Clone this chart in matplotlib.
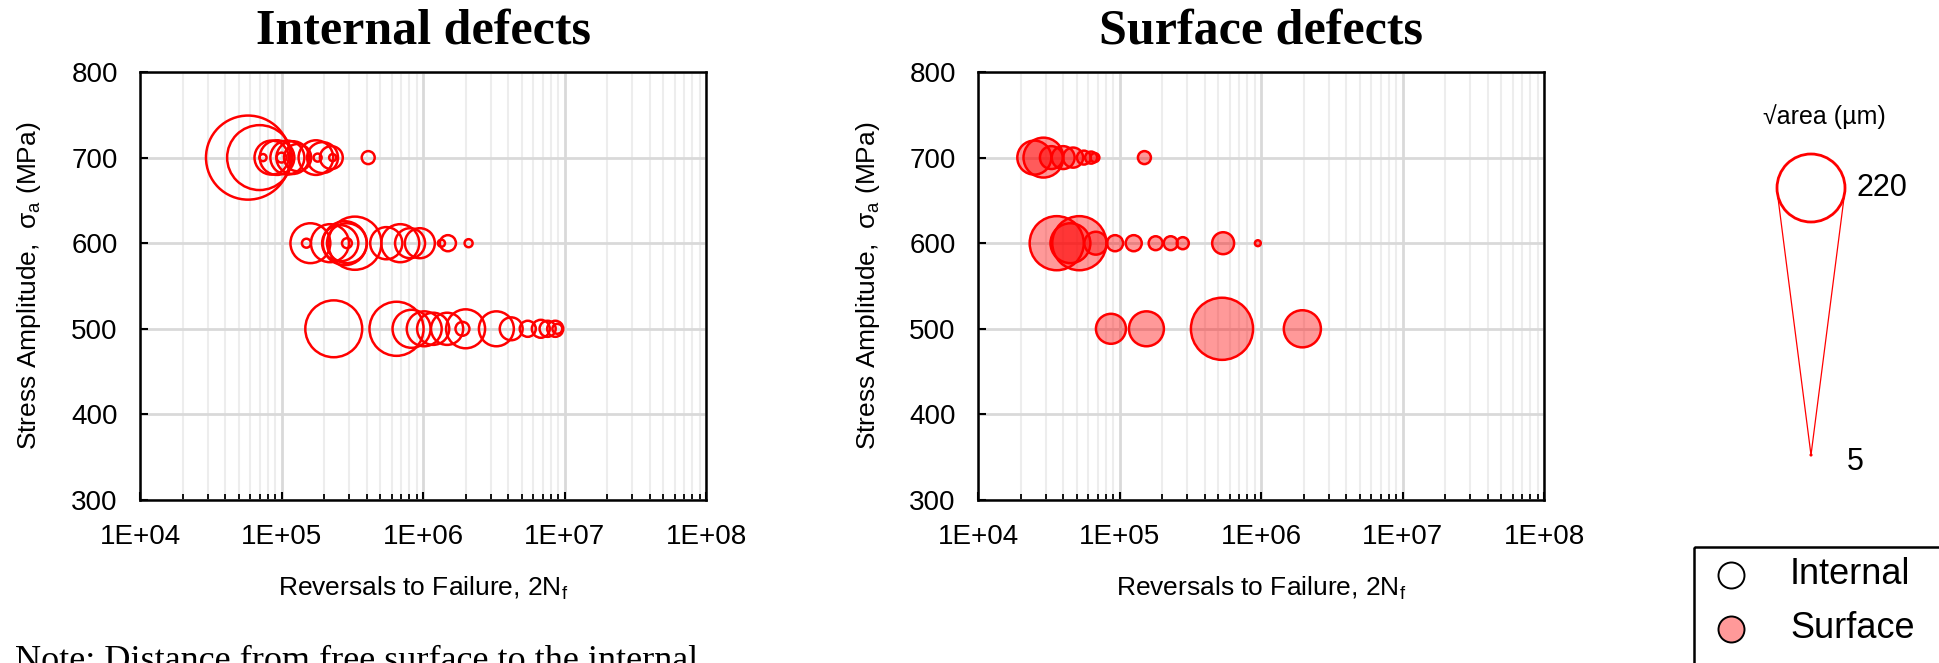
import numpy as np
import matplotlib.pyplot as plt
from matplotlib.patches import Circle, Rectangle
from matplotlib.ticker import LogLocator, NullFormatter, FuncFormatter

plt.rcParams['font.family'] = ['Liberation Sans', 'DejaVu Sans']
plt.rcParams['mathtext.fontset'] = 'custom'
plt.rcParams['mathtext.rm'] = 'Liberation Sans'

# ----- CONFIG -----
DPI = 100
W, H = 1939, 663
PX_PER_UM = 68 / 220  # bubble diameter in px per um of sqrt(area)
RED = '#ff0000'
# -------------------

# internal defects: reversals to failure, stress amplitude (MPa), sqrt(area) (um)
int_N_700 = [5.8e4, 7.0e4, 7.4e4, 8.5e4, 9.3e4, 1.0e5, 1.1e5, 1.2e5, 1.3e5,
             1.75e5, 1.8e5, 1.95e5, 2.25e5, 2.3e5, 4.1e5]
int_size_700 = [272, 210, 23, 110, 112, 32, 110, 106, 88, 112, 26, 100, 74, 23, 42]

int_N_600 = [1.5e5, 1.6e5, 2.2e5, 2.6e5, 2.8e5, 2.9e5, 2.9e5, 3.3e5, 5.5e5,
             6.9e5, 8.1e5, 9.5e5, 1.35e6, 1.5e6, 2.1e6]
int_size_600 = [29, 129, 123, 117, 142, 129, 32, 172, 104, 123, 97, 97, 23, 52, 26]

int_N_500 = [2.34e5, 6.5e5, 8.3e5, 1.02e6, 1.18e6, 1.48e6, 2.0e6, 1.9e6, 3.3e6,
             4.2e6, 5.5e6, 6.8e6, 7.6e6, 8.6e6, 8.9e6]
int_size_500 = [184, 175, 123, 113, 104, 104, 126, 45, 113, 74, 52, 58, 52, 52, 32]

# surface defects
surf_N_700 = [2.5e4, 2.9e4, 3.3e4, 4.0e4, 4.7e4, 5.6e4, 6.3e4, 6.7e4, 1.5e5]
surf_size_700 = [110, 129, 74, 74, 65, 45, 39, 29, 42]

surf_N_600 = [3.6e4, 5.2e4, 4.5e4, 6.8e4, 9.3e4, 1.26e5, 1.8e5, 2.3e5, 2.8e5,
              5.4e5, 9.5e5]
surf_size_600 = [175, 175, 129, 74, 52, 52, 45, 45, 39, 71, 19]

surf_N_500 = [8.7e4, 1.55e5, 5.3e5, 1.96e6]
surf_size_500 = [97, 113, 201, 120]

scale_sizes = [220, 5]
legend_labels = ['Internal', 'Surface']


def marker_area(sizes):
    d_pt = np.asarray(sizes, dtype=float) * PX_PER_UM * 72 / DPI
    return d_pt ** 2


def decade_label(v, pos):
    return f"1E+{int(round(np.log10(v))):02d}"


def style_axes(ax):
    ax.set_xscale('log')
    ax.set_xlim(1e4, 1e8)
    ax.set_ylim(300, 800)
    ax.set_yticks(range(300, 801, 100))
    ax.xaxis.set_major_locator(LogLocator(base=10, numticks=10))
    ax.xaxis.set_minor_locator(LogLocator(base=10, subs=np.arange(2, 10), numticks=100))
    ax.xaxis.set_major_formatter(FuncFormatter(decade_label))
    ax.xaxis.set_minor_formatter(NullFormatter())
    ax.grid(which='major', color='#d9d9d9', lw=2.0)
    ax.grid(which='minor', axis='x', color='#ededed', lw=1.5)
    ax.set_axisbelow(True)
    for sp in ax.spines.values():
        sp.set_linewidth(1.8)
        sp.set_color('black')
    ax.tick_params(which='major', direction='in', length=6, width=1.5, labelsize=20)
    ax.tick_params(axis='x', which='major', pad=17)
    ax.tick_params(axis='y', which='major', pad=16)
    ax.tick_params(axis='x', which='minor', direction='in', length=4.5, width=1.3)
    ax.set_xlabel(r'Reversals to Failure, 2N$_\mathregular{f}$', fontsize=19, labelpad=18)
    ax.set_ylabel(r'Stress Amplitude,  σ$_\mathregular{a}$ (MPa)', fontsize=19, labelpad=20)


def rows(N_lists, size_lists, stresses):
    xs, ys, ss = [], [], []
    for N, s, st in zip(N_lists, size_lists, stresses):
        xs += list(N)
        ys += [st] * len(N)
        ss += list(s)
    return np.array(xs), np.array(ys), np.array(ss)


fig = plt.figure(figsize=(W / DPI, H / DPI), dpi=DPI)

ax_l = fig.add_axes([140 / W, 1 - 500 / H, 566 / W, 428 / H])
ax_r = fig.add_axes([978 / W, 1 - 500 / H, 566 / W, 428 / H])

for ax in (ax_l, ax_r):
    style_axes(ax)

x, y, s = rows([int_N_700, int_N_600, int_N_500],
               [int_size_700, int_size_600, int_size_500], [700, 600, 500])
ax_l.scatter(x, y, s=marker_area(s), facecolors='none', edgecolors=RED,
             linewidths=1.8, zorder=3)

x, y, s = rows([surf_N_700, surf_N_600, surf_N_500],
               [surf_size_700, surf_size_600, surf_size_500], [700, 600, 500])
ax_r.scatter(x, y, s=marker_area(s), facecolors=(1, 0, 0, 0.4), edgecolors=RED,
             linewidths=1.8, zorder=3)

# titles
for ax, title in ((ax_l, 'Internal defects'), (ax_r, 'Surface defects')):
    pos = ax.get_position()
    fig.text(pos.x0 + pos.width / 2, 1 - 32 / H, title, family='Liberation Serif',
             weight='bold', size=36, ha='center', va='center')

fig.text(15 / W, 1 - 670 / H, 'Note: Distance from free surface to the internal',
         family='Liberation Serif', size=26, va='baseline')

# overlay in pixel units for the size key and the legend box
ov = fig.add_axes([0, 0, 1, 1])
ov.set_xlim(0, W)
ov.set_ylim(H, 0)
ov.axis('off')

cx, cy = 1811, 188
apex = (1811, 455)
r_big = scale_sizes[0] * PX_PER_UM / 2
L = apex[1] - cy
alpha = np.arccos(r_big / L)
for sgn in (-1, 1):
    tx = cx + sgn * r_big * np.sin(alpha)
    ty = cy + r_big * np.cos(alpha)
    ov.plot([tx, apex[0]], [ty, apex[1]], color=RED, lw=0.9)
ov.add_patch(Circle((cx, cy), r_big, facecolor='white', edgecolor=RED, lw=2.0, zorder=3))
ov.add_patch(Circle(apex, max(scale_sizes[1] * PX_PER_UM / 2, 1.0), facecolor=RED,
                    edgecolor=RED, lw=0.8, zorder=3))
ov.text(1824, 117, '√area (µm)', size=18, ha='center', va='center')
ov.text(1857, 188, str(scale_sizes[0]), size=22, ha='left', va='center')
ov.text(1847, 462, str(scale_sizes[1]), size=22, ha='left', va='center')

ov.add_patch(Rectangle((1694, 547), 300, 200, facecolor='none', edgecolor='black',
                       lw=1.8, clip_on=False))
leg_d = 26 * 72 / DPI
ov.scatter([1731], [575], s=leg_d ** 2, facecolors='white', edgecolors='black', linewidths=1.4)
ov.scatter([1731], [629], s=leg_d ** 2, facecolors='#ff9999', edgecolors='black', linewidths=1.4)
ov.text(1790, 575, legend_labels[0], size=26, ha='left', va='center')
ov.text(1790, 629, legend_labels[1], size=26, ha='left', va='center')

fig.savefig('out.png', dpi=DPI)
